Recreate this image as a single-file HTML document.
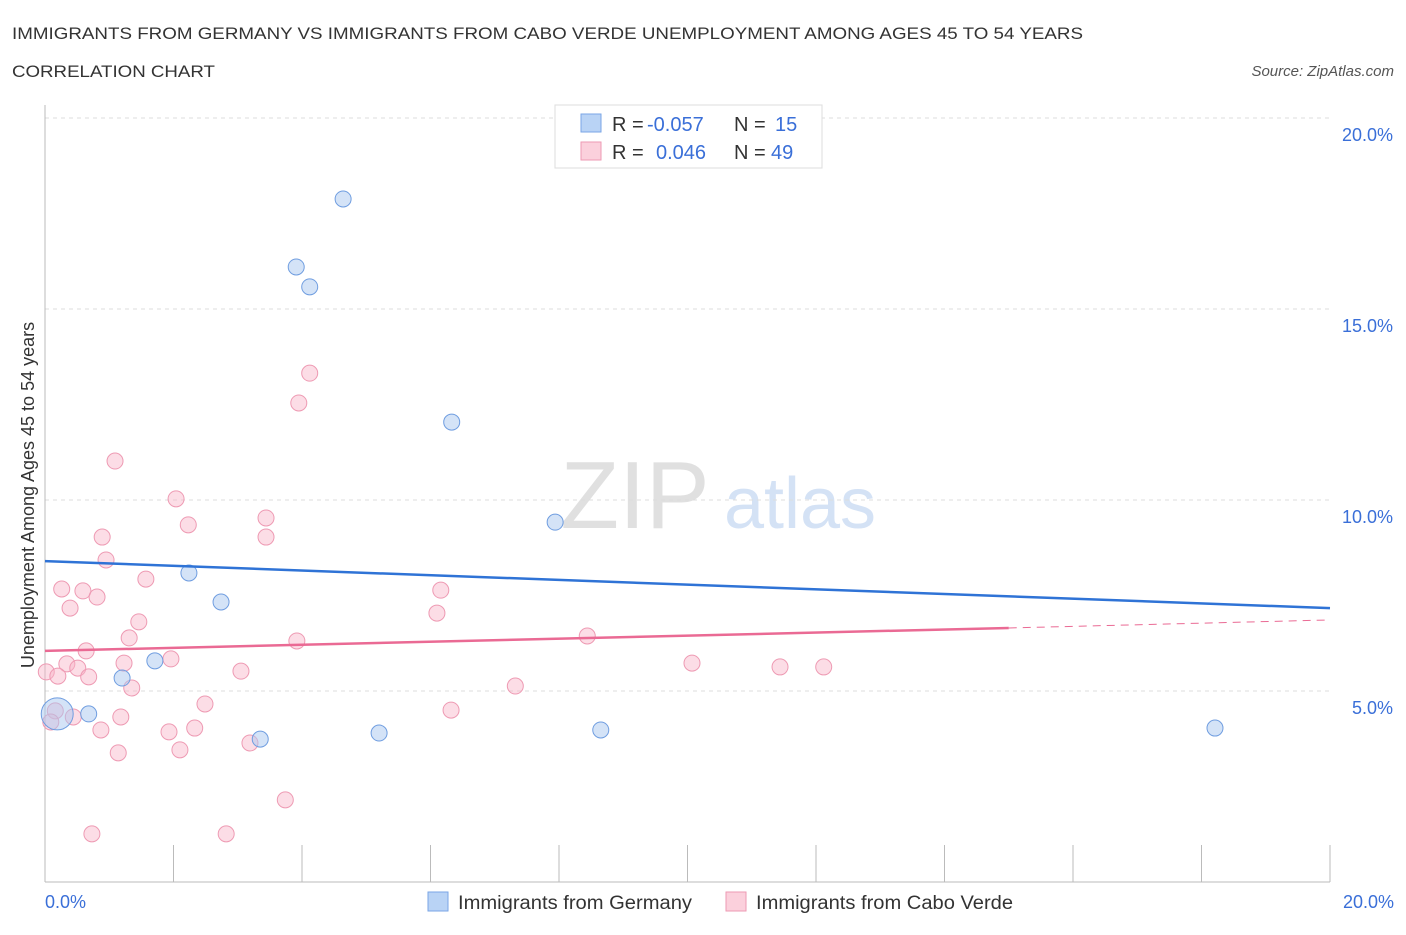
<!DOCTYPE html>
<html><head><meta charset="utf-8"><style>
body{margin:0;background:#fff;font-family:"Liberation Sans",sans-serif;}
svg text{font-family:"Liberation Sans",sans-serif;}
</style></head><body>
<svg id="c" width="1406" height="930" xmlns="http://www.w3.org/2000/svg">
<text x="12" y="39" font-size="17" fill="#333" textLength="1071" lengthAdjust="spacingAndGlyphs">IMMIGRANTS FROM GERMANY VS IMMIGRANTS FROM CABO VERDE UNEMPLOYMENT AMONG AGES 45 TO 54 YEARS</text>
<text x="12" y="77" font-size="17" fill="#333" textLength="203" lengthAdjust="spacingAndGlyphs">CORRELATION CHART</text>
<text x="1394" y="76" font-size="15" fill="#555" font-style="italic" text-anchor="end">Source: ZipAtlas.com</text>
<text x="635" y="528" font-size="96" fill="#ccc" opacity="0.6" font-family="Liberation Serif" text-anchor="middle">ZIP</text>
<text x="800" y="528" font-size="72" fill="#b8cff0" opacity="0.6" text-anchor="middle">atlas</text>
<g id="grid"></g>
<g id="marks"></g>
<text transform="translate(34,495) rotate(-90)" font-size="18" fill="#333" text-anchor="middle">Unemployment Among Ages 45 to 54 years</text>
<text x="45" y="908" font-size="18" fill="#3a6fd8">0.0%</text>
<text x="1394" y="908" font-size="18" fill="#3a6fd8" text-anchor="end">20.0%</text>
<g>
<rect x="555" y="105" width="267" height="63" fill="#fff" stroke="#ddd"/>
<rect x="581" y="114" width="20" height="18" fill="#b9d3f5" stroke="#7aa6e6"/>
<rect x="581" y="142" width="20" height="18" fill="#fbd0dc" stroke="#ee9ab3"/>
<text x="612" y="131" font-size="20" fill="#333">R = </text><text x="647" y="131" font-size="20" fill="#3a6fd8">-0.057</text>
<text x="734" y="131" font-size="20" fill="#333">N = </text><text x="775" y="131" font-size="20" fill="#3a6fd8">15</text>
<text x="612" y="159" font-size="20" fill="#333">R = </text><text x="656" y="159" font-size="20" fill="#3a6fd8">0.046</text>
<text x="734" y="159" font-size="20" fill="#333">N = </text><text x="771" y="159" font-size="20" fill="#3a6fd8">49</text>
</g>
<g>
<rect x="428" y="892" width="20" height="19" fill="#b9d3f5" stroke="#7aa6e6"/>
<text x="458" y="909" font-size="19" fill="#333" textLength="234" lengthAdjust="spacingAndGlyphs">Immigrants from Germany</text>
<rect x="726" y="892" width="20" height="19" fill="#fbd0dc" stroke="#ee9ab3"/>
<text x="756" y="909" font-size="19" fill="#333" textLength="257" lengthAdjust="spacingAndGlyphs">Immigrants from Cabo Verde</text>
</g>
</svg>
<script>
const yTicks=[5,10,15,20];
const yTickLabels=["5.0%","10.0%","15.0%","20.0%"];
const germanyX=[4.64,3.91,4.12,6.33,7.94,2.24,2.74,1.71,1.20,0.68,0.19,3.35,5.20,8.65,18.21];
const germanyY=[17.88,16.1,15.58,12.04,9.42,8.09,7.33,5.79,5.34,4.40,4.40,3.74,3.90,3.98,4.03];
const caboX=[4.12,3.95,1.09,2.04,2.23,3.44,3.44,0.89,0.95,1.57,0.26,0.59,0.81,0.39,1.46,6.16,6.10,1.31,3.92,8.44,0.64,1.96,1.23,0.34,0.51,0.02,0.20,0.68,3.05,10.07,11.44,12.12,1.35,7.32,2.49,6.32,0.16,0.44,1.18,0.09,0.87,1.93,2.33,3.19,2.10,1.14,3.74,0.73,2.82];
const caboY=[13.32,12.54,11.02,10.03,9.35,9.53,9.03,9.03,8.43,7.93,7.67,7.62,7.46,7.17,6.81,7.64,7.04,6.39,6.31,6.44,6.05,5.84,5.73,5.71,5.60,5.50,5.39,5.37,5.52,5.73,5.63,5.63,5.08,5.13,4.66,4.50,4.48,4.32,4.32,4.19,3.98,3.93,4.03,3.64,3.46,3.38,2.15,1.26,1.26];
const germanyTrend=[8.40,7.17];
const caboTrend=[6.05,6.65,6.86];
const NS="http://www.w3.org/2000/svg";
const X=v=>45+v*64.25, Y=v=>882-v*38.2;
const grid=document.getElementById('grid'), marks=document.getElementById('marks');
function mk(tag,attrs,parent){const e=document.createElementNS(NS,tag);for(const k in attrs)e.setAttribute(k,attrs[k]);parent.appendChild(e);return e;}
yTicks.forEach((t,i)=>{
 const l=mk('line',{x1:45,x2:1330,y1:Y(t),y2:Y(t),stroke:'#ddd','stroke-dasharray':'4,4'},grid);
 
 
 const tx=mk('text',{x:1393,y:Y(t)+23,'font-size':18,fill:'#3a6fd8','text-anchor':'end'},grid);
 tx.textContent=yTickLabels[i];
 
 
});
const ax=mk('line',{x1:45,x2:45,y1:105,y2:882,stroke:'#bbb'},grid);


const bx=mk('line',{x1:45,x2:1330,y1:882,y2:882,stroke:'#bbb'},grid);


for(let i=0;i<=10;i++){const t=mk('line',{x1:X(i*2),x2:X(i*2),y1:845,y2:882,stroke:'#bbb'},grid);
 
 }
caboX.forEach((x,i)=>{const c=mk('circle',{cx:X(x),cy:Y(caboY[i]),r:8,fill:'rgba(248,180,200,0.45)',stroke:'#ee9ab3','stroke-width':1},marks);
 
 });
germanyX.forEach((x,i)=>{const c=mk('circle',{cx:X(x),cy:Y(germanyY[i]),r:i==10?16:8,fill:'rgba(170,200,240,0.5)',stroke:'#6f9de0','stroke-width':1},marks);
 
 });
const gl=mk('line',{x1:X(0),y1:Y(germanyTrend[0]),x2:X(20),y2:Y(germanyTrend[1]),stroke:'#2f73d6','stroke-width':2.5},marks);


const cl=mk('line',{x1:X(0),y1:Y(caboTrend[0]),x2:X(15),y2:Y(caboTrend[1]),stroke:'#ea6a94','stroke-width':2.5},marks);


const cd=mk('line',{x1:X(15),y1:Y(caboTrend[1]),x2:X(20),y2:Y(caboTrend[2]),stroke:'#ea6a94','stroke-width':1,'stroke-dasharray':'8,6'},marks);


</script>
</body></html>
